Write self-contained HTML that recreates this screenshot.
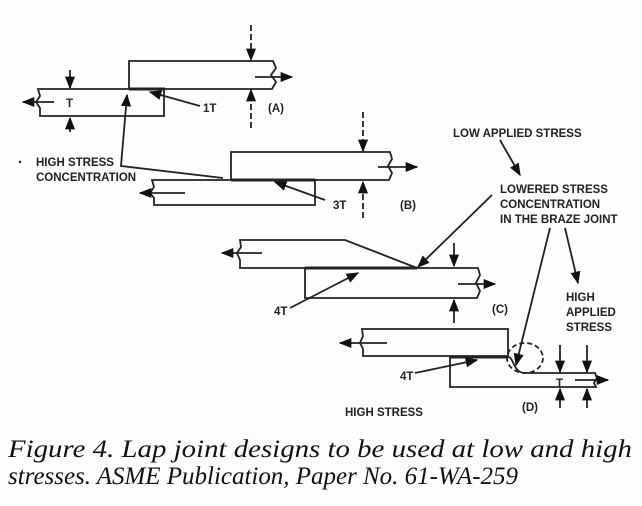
<!DOCTYPE html>
<html><head><meta charset="utf-8"><style>
html,body{margin:0;padding:0;background:#fff;width:642px;height:506px;overflow:hidden}
svg{display:block}
.t{font-family:"Liberation Sans",Arial,sans-serif;font-size:11.5px;font-weight:bold;fill:#222}
.c{font-family:"Liberation Serif",serif;font-style:italic;font-size:25px;fill:#111}
</style></head><body>
<svg width="642" height="506" viewBox="0 0 642 506">
<defs><marker id="a" viewBox="0 0 10 10" refX="9" refY="5" markerWidth="7" markerHeight="7" orient="auto"><path d="M0,1 L10,5 L0,9 z" fill="#111"/></marker></defs>
<rect width="642" height="506" fill="#fdfdfb"/>
<g fill="none" stroke="#222" stroke-width="1.8">
<!-- A -->
<path d="M129,89 V61 H273 L276,68 L271,75 L276,82 L272,89 H129"/>
<path d="M38,89 H164 V116 H40 L40,108 L36,102 L40,96 Z"/>
<line x1="129" y1="89" x2="165" y2="89" stroke-width="3"/>
<line x1="255" y1="77" x2="292" y2="77" marker-end="url(#a)"/>
<line x1="54" y1="102" x2="23" y2="102" marker-end="url(#a)"/>
<line x1="70" y1="70" x2="70" y2="88" marker-end="url(#a)"/>
<line x1="70" y1="132" x2="70" y2="118" marker-end="url(#a)"/>
<line x1="200" y1="106" x2="150" y2="92" marker-end="url(#a)"/>
<line x1="251" y1="25" x2="251" y2="60" stroke-dasharray="6,3" marker-end="url(#a)"/>
<line x1="251" y1="128" x2="251" y2="90" stroke-dasharray="6,3" marker-end="url(#a)"/>
<polyline points="223,178 121,166 127,95" marker-end="url(#a)"/>
<!-- B -->
<path d="M231,180 V152 H390 L392,159 L388,166 L392,173 L389,180 H231"/>
<path d="M152,180 H315 V205 H154 L154,198 L150,193 L154,187 Z"/>
<line x1="231" y1="180" x2="315" y2="180" stroke-width="3"/>
<line x1="378" y1="167" x2="417" y2="167" marker-end="url(#a)"/>
<line x1="185" y1="193" x2="140" y2="193" marker-end="url(#a)"/>
<line x1="363" y1="112" x2="363" y2="151" stroke-dasharray="6,3" marker-end="url(#a)"/>
<line x1="363" y1="218" x2="363" y2="182" stroke-dasharray="6,3" marker-end="url(#a)"/>
<line x1="325" y1="200" x2="275" y2="182" marker-end="url(#a)"/>
<line x1="500" y1="140" x2="520" y2="175" marker-end="url(#a)"/>
<line x1="492" y1="195" x2="418" y2="267" marker-end="url(#a)"/>
<!-- C -->
<path d="M240,240 H345 L417,268 H240 L240,260 L237,253 L241,247 Z"/>
<path d="M305,268 H478 L480,275 L476,283 L480,291 L477,298 H305 Z"/>
<line x1="305" y1="268" x2="417" y2="268" stroke-width="3"/>
<line x1="262" y1="253" x2="222" y2="253" marker-end="url(#a)"/>
<line x1="458" y1="284" x2="495" y2="284" marker-end="url(#a)"/>
<line x1="290" y1="308" x2="358" y2="273" marker-end="url(#a)"/>
<line x1="454" y1="243" x2="454" y2="266" marker-end="url(#a)"/>
<line x1="454" y1="323" x2="454" y2="300" marker-end="url(#a)"/>
<!-- D -->
<path d="M362,329 H508 V356 H363 L363,349 L360,343 L363,336 Z"/>
<path d="M450,357 H508 C514,357 513,373 525,373 H595 L597,378 L594,383 L596,387 H450 Z"/>
<line x1="450" y1="357" x2="508" y2="357" stroke-width="3"/>
<ellipse cx="525" cy="358" rx="18" ry="15" stroke-dasharray="5,3"/>
<line x1="387" y1="343" x2="340" y2="343" marker-end="url(#a)"/>
<line x1="575" y1="380" x2="608" y2="380" marker-end="url(#a)"/>
<line x1="415" y1="373" x2="477" y2="360" marker-end="url(#a)"/>
<line x1="550" y1="228" x2="516" y2="365" marker-end="url(#a)"/>
<line x1="565" y1="228" x2="578" y2="283" marker-end="url(#a)"/>
<line x1="560" y1="345" x2="560" y2="372" marker-end="url(#a)"/>
<line x1="560" y1="408" x2="560" y2="389" marker-end="url(#a)"/>
<line x1="587" y1="345" x2="587" y2="372" marker-end="url(#a)"/>
<line x1="587" y1="408" x2="587" y2="389" marker-end="url(#a)"/>
</g>
<circle cx="20" cy="162" r="1.2" fill="#222"/>
<text class="t" x="66" y="107">T</text>
<text class="t" x="203" y="112">1T</text>
<text class="t" x="268" y="112">(A)</text>
<text class="t" x="36" y="166">HIGH STRESS</text>
<text class="t" x="36" y="181">CONCENTRATION</text>
<text class="t" x="333" y="209">3T</text>
<text class="t" x="400" y="209">(B)</text>
<text class="t" x="453" y="137">LOW APPLIED STRESS</text>
<text class="t" x="500" y="193">LOWERED STRESS</text>
<text class="t" x="500" y="208">CONCENTRATION</text>
<text class="t" x="500" y="223">IN THE BRAZE JOINT</text>
<text class="t" x="274" y="315">4T</text>
<text class="t" x="492" y="313">(C)</text>
<text class="t" x="566" y="301">HIGH</text>
<text class="t" x="566" y="316">APPLIED</text>
<text class="t" x="566" y="331">STRESS</text>
<text class="t" x="400" y="380">4T</text>
<text class="t" x="556" y="387">T</text>
<text class="t" x="522" y="411">(D)</text>
<text class="t" x="345" y="416">HIGH STRESS</text>
<text class="c" x="8" y="457" textLength="624" lengthAdjust="spacingAndGlyphs">Figure 4. Lap joint designs to be used at low and high</text>
<text class="c" x="8" y="484" textLength="510" lengthAdjust="spacingAndGlyphs">stresses. ASME Publication, Paper No. 61-WA-259</text>
</svg>
</body></html>
